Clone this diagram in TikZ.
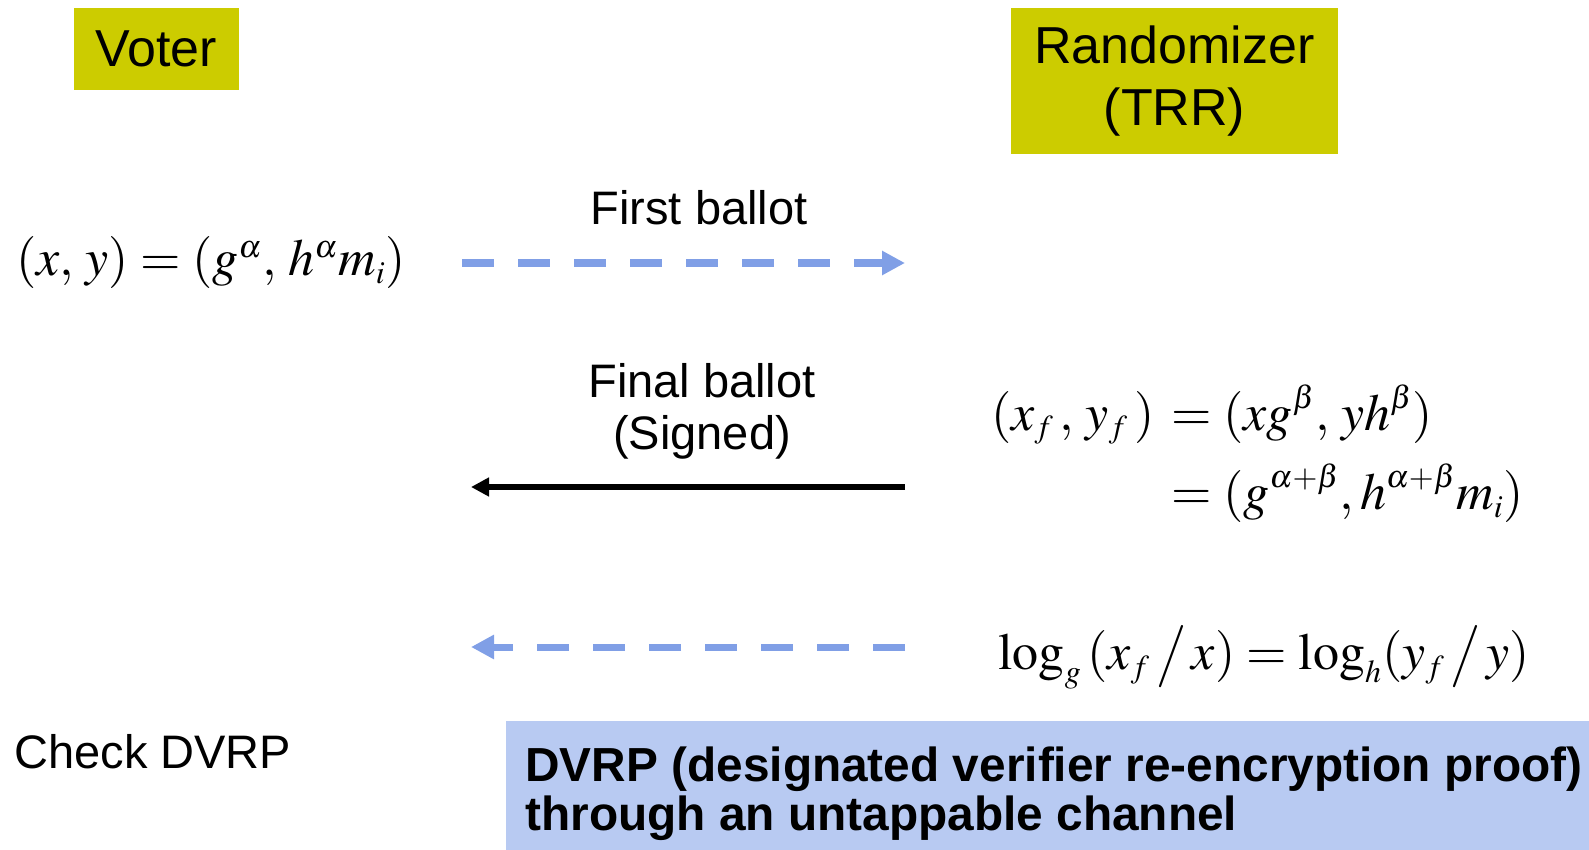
\documentclass[tikz,border=0pt]{standalone}
\usepackage{amsmath}
\usepackage{mathptmx}
\usepackage[no-math]{fontspec}
\setmainfont{Liberation Sans}
\usetikzlibrary{arrows.meta}

\DeclareMathSizes{26}{26}{16}{12}

\definecolor{titlebg}{RGB}{204,204,0}
\definecolor{msgblue}{RGB}{128,159,230}
\definecolor{notebg}{RGB}{184,202,242}

\tikzset{
  titlebox/.style={fill=titlebg, inner sep=0pt, align=center,
    font=\fontsize{26}{31}\selectfont},
  lbl/.style={inner sep=0pt, align=center, font=\fontsize{23.5}{26}\selectfont},
  mathlbl/.style={inner sep=0pt, font=\fontsize{26}{30}\selectfont},
  dashmsg/.style={draw=msgblue, line width=3.5pt, dash pattern=on 16pt off 12pt,
    -{Triangle[length=11.5pt,width=11.5pt]}},
  solidmsg/.style={draw=black, line width=3pt,
    -{Triangle[length=9pt,width=9pt]}},
  notebox/.style={fill=notebg, inner sep=0pt, minimum width=541.5pt, minimum height=64.5pt},
  notetext/.style={inner sep=0pt, align=left,
    font=\fontsize{23.9}{24.5}\selectfont\bfseries}
}

\begin{document}
\begin{tikzpicture}[x=0.5pt, y=-0.5pt]
  \useasboundingbox (0,0) rectangle (1589,850);

  % parties
  \node[titlebox, minimum width=82.5pt, minimum height=41pt] (voter) at (156.5,49) {Voter};
  \node[titlebox, minimum width=163.5pt, minimum height=73pt] (trr) at (1174.5,81) {Randomizer\\(TRR)};

  % first ballot
  \node[mathlbl, anchor=west] (enc) at (16,263) {$(x,\,y)=(g^{\alpha},\,h^{\alpha}m_i)$};
  \coordinate (m1s) at (462,263);
  \coordinate (m1e) at (905,263);
  \draw[dashmsg] (m1s) -- (m1e);
  \node[lbl] (first) at (699,208) {First ballot};

  % final ballot
  \node[lbl] (final) at (702,411) {Final ballot\\(Signed)};
  \coordinate (m2s) at (905,487);
  \coordinate (m2e) at (471,487);
  \draw[solidmsg] (m2s) -- (m2e);
  \node[mathlbl, anchor=west] (reenc) at (991,456)
    {$\begin{aligned}(x_f\,,\,y_f\,)\,&=(xg^{\beta},\,yh^{\beta})\\[4pt]
      &=(g^{\alpha+\beta},h^{\alpha+\beta}m_i)\end{aligned}$};

  % proof
  \coordinate (m3s) at (905,647);
  \coordinate (m3e) at (471,647);
  \draw[dashmsg] (m3s) -- (m3e);
  \node[mathlbl, anchor=west] (proof) at (998,657)
    {$\log_g\,(x_f\,\big/\,x)=\log_h(y_f\,\big/\,y)$};

  \node[lbl, anchor=west] (check) at (14,752) {Check DVRP};

  % note on the proof channel
  \node[notebox, anchor=north west] (note) at (506,721) {};
  \node[notetext, anchor=west] (notetxt) at (525,794)
    {DVRP (designated verifier re-encryption proof)\\through an untappable channel};
\end{tikzpicture}
\end{document}
